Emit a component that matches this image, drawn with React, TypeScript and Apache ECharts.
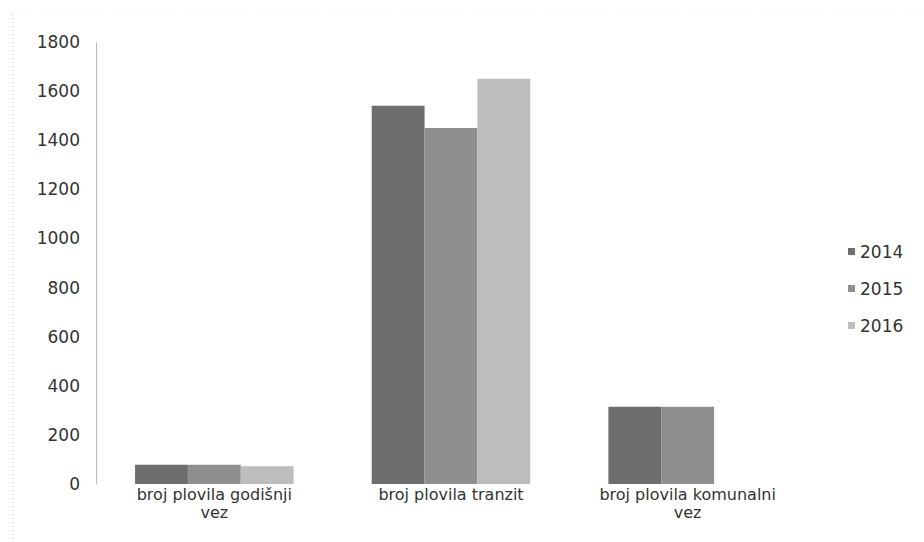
import React, { useEffect, useRef } from "react";
import * as echarts from "echarts";

const categories = ["broj plovila godišnji vez", "broj plovila tranzit", "broj plovila komunalni vez"];
const years = ["2014", "2015", "2016"];
const values2014 = [78, 1540, 315];
const values2015 = [78, 1450, 315];
const values2016 = [72, 1650, 0];
const yTicks = [0, 200, 400, 600, 800, 1000, 1200, 1400, 1600, 1800];

const colors = ["#6e6e6e", "#8f8f8f", "#bdbdbd"];
const font = "'DejaVu Sans', sans-serif";

export default function App() {
  const ref = useRef<HTMLDivElement>(null);
  useEffect(() => {
    document.body.style.margin = "0";
    const chart = echarts.init(ref.current!, null, { renderer: "svg" });
    const seriesData = [values2014, values2015, values2016];
    chart.setOption({
      animation: false,
      backgroundColor: "#ffffff",
      textStyle: { fontFamily: font },
      grid: { left: 96, right: 118, top: 42, bottom: 58 },
      legend: {
        orient: "vertical",
        left: 843,
        top: 238,
        itemWidth: 7,
        itemHeight: 7,
        itemGap: 20,
        icon: "rect",
        textStyle: { fontSize: 17, color: "#333", fontFamily: font },
        data: years,
      },
      xAxis: {
        type: "category",
        data: categories,
        axisLine: { show: false },
        axisTick: { show: false },
        axisLabel: {
          interval: 0,
          fontSize: 16,
          color: "#333",
          margin: 1,
          lineHeight: 18,
          fontFamily: font,
          formatter: (v: string) => {
            const parts = v.split(" ");
            if (v.length > 22) {
              return parts.slice(0, -1).join(" ") + "\n" + parts[parts.length - 1];
            }
            return v;
          },
        },
      },
      yAxis: {
        type: "value",
        min: yTicks[0],
        max: yTicks[yTicks.length - 1],
        interval: 200,
        axisLine: { show: true, lineStyle: { color: "#aaa", type: "dotted", width: 1 } },
        axisTick: { show: false },
        splitLine: { show: false },
        axisLabel: {
          fontSize: 17,
          color: "#333",
          margin: 16,
          fontFamily: font,
          formatter: (v: number) => String(v),
        },
      },
      graphic: [
        {
          type: "line",
          shape: { x1: 13, y1: 14, x2: 13, y2: 542 },
          style: { stroke: "#bbb", lineWidth: 1, lineDash: [1, 3] },
        },
        {
          type: "line",
          shape: { x1: 13, y1: 14, x2: 924, y2: 14 },
          style: { stroke: "#ddd", lineWidth: 1, lineDash: [1, 8] },
        },
      ],
      series: years.map((y, i) => ({
        name: y,
        type: "bar",
        data: seriesData[i],
        barGap: "0%",
        barCategoryGap: "33%",
        itemStyle: { color: colors[i] },
      })),
    });
    return () => chart.dispose();
  }, []);
  return <div ref={ref} style={{ width: 924, height: 542 }} />;
}
